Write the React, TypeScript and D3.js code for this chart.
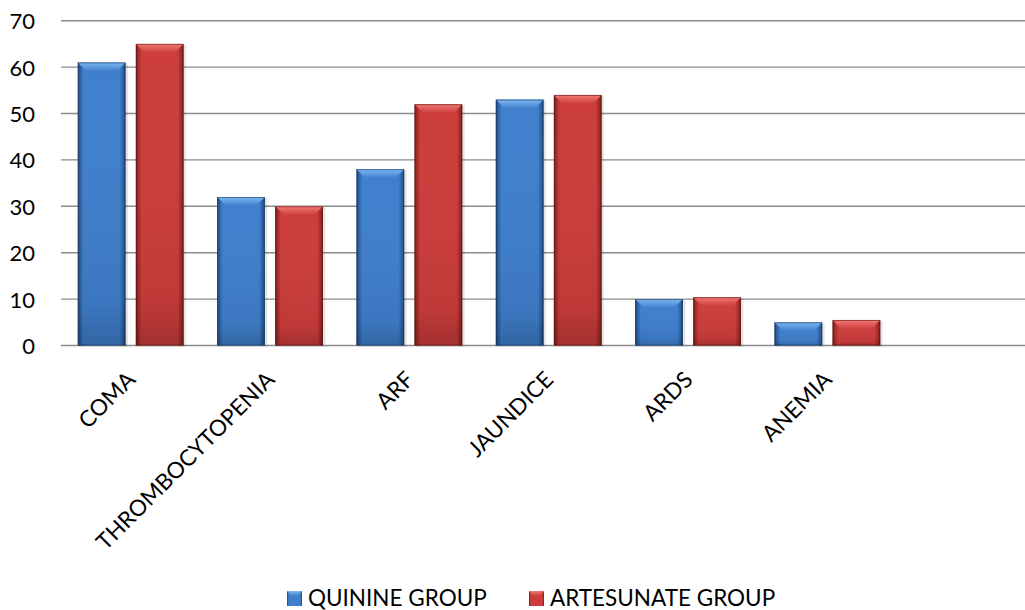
import React from "react";
import * as d3 from "d3";

const categories = ["COMA", "THROMBOCYTOPENIA", "ARF", "JAUNDICE", "ARDS", "ANEMIA"];
const quinine = [61, 32, 38, 53, 10, 5];
const artesunate = [65, 30, 52, 54, 10.4, 5.5];
const seriesNames = ["QUININE GROUP", "ARTESUNATE GROUP"];
const yTicks = [0, 10, 20, 30, 40, 50, 60, 70];

const W = 1025;
const H = 610;
const FONT = "Lato, 'Open Sans', sans-serif";

const palette = [
  { id: "blue", light: "#7fb8f2", main: "#3f7fcc", dark: "#2a5c9c", edge: "#1b3a66" },
  { id: "red", light: "#f27a74", main: "#cc3d3b", dark: "#9a2826", edge: "#641817" },
];

export default function App() {
  const slots = d3.range(categories.length + 1); // one empty trailing slot, as in the original
  const x = d3.scaleBand<number>().domain(slots).range([61, 1036.4]).padding(0);
  const xs = d3
    .scaleBand<number>()
    .domain([0, 1])
    .range([0, x.bandwidth()])
    .paddingInner(0.1776)
    .paddingOuter(0.2888);
  const y = d3.scaleLinear().domain([0, 70]).range([345.5, 20.7]);
  const values = [quinine, artesunate];
  const bw = xs.bandwidth();
  const bev = 9;

  return (
    <svg
      width={W}
      height={H}
      style={{ position: "absolute", left: 0, top: 0, background: "#fff" }}
      fontFamily={FONT}
    >
      <defs>
        {palette.map((p) => (
          <React.Fragment key={p.id}>
            <linearGradient id={`body-${p.id}`} x1="0" x2="1" y1="0" y2="0">
              <stop offset="0" stopColor={p.edge} />
              <stop offset="0.04" stopColor={p.dark} />
              <stop offset="0.12" stopColor={p.main} />
              <stop offset="0.88" stopColor={p.main} />
              <stop offset="0.96" stopColor={p.dark} />
              <stop offset="1" stopColor={p.edge} />
            </linearGradient>
            <linearGradient id={`shade-${p.id}`} x1="0" x2="0" y1="0" y2="1">
              <stop offset="0" stopColor="#fff" stopOpacity="0" />
              <stop offset="0.85" stopColor="#000" stopOpacity="0.06" />
              <stop offset="1" stopColor="#000" stopOpacity="0.2" />
            </linearGradient>
            <linearGradient id={`top-${p.id}`} x1="0" x2="0" y1="0" y2="1">
              <stop offset="0" stopColor={p.light} />
              <stop offset="1" stopColor={p.main} />
            </linearGradient>
          </React.Fragment>
        ))}
      </defs>

      {/* gridlines */}
      {yTicks.map((t) => (
        <line
          key={`g${t}`}
          x1={61}
          x2={W}
          y1={y(t)}
          y2={y(t)}
          stroke="#8c8c8c"
          strokeWidth={1.4}
        />
      ))}

      {/* y tick labels */}
      {yTicks.map((t) => (
        <text
          key={`t${t}`}
          x={35}
          y={y(t)}
          textAnchor="end"
          dominantBaseline="central"
          fontSize={22}
          fill="#000"
        >
          {t}
        </text>
      ))}

      {/* bars */}
      {categories.map((c, i) =>
        values.map((vals, s) => {
          const p = palette[s];
          const x0 = (x(i) as number) + (xs(s) as number);
          const y0 = y(vals[i]);
          const y1 = y(0);
          const h = y1 - y0;
          const b = Math.min(bev, h / 2);
          return (
            <g key={`${c}-${s}`}>
              <rect x={x0 + 1} y={y0 + 1} width={bw + 1.5} height={h} fill="#000" opacity={0.1} />
              <rect x={x0} y={y0} width={bw} height={h} fill={`url(#body-${p.id})`} />
              <rect x={x0} y={y0} width={bw} height={h} fill={`url(#shade-${p.id})`} />
              <polygon
                points={`${x0},${y0} ${x0 + bw},${y0} ${x0 + bw - b},${y0 + b} ${x0 + b},${y0 + b}`}
                fill={`url(#top-${p.id})`}
              />
              <rect
                x={x0 + 0.5}
                y={y0 + 0.5}
                width={bw - 1}
                height={h - 1}
                fill="none"
                stroke={p.edge}
                strokeOpacity={0.6}
                strokeWidth={1}
              />
            </g>
          );
        })
      )}

      {/* category labels */}
      {categories.map((c, i) => {
        const cx = (x(i) as number) + x.bandwidth() / 2 + 6;
        const cy = 381;
        return (
          <text
            key={`l${c}`}
            x={cx}
            y={cy}
            textAnchor="end"
            fontSize={22.5}
            fill="#000"
            transform={`rotate(-45 ${cx} ${cy})`}
          >
            {c}
          </text>
        );
      })}

      {/* legend */}
      {seriesNames.map((n, s) => {
        const p = palette[s];
        const lx = s === 0 ? 287 : 529;
        return (
          <g key={n}>
            <rect x={lx} y={591} width={15} height={15} fill={`url(#body-${p.id})`} />
            <polygon
              points={`${lx},591 ${lx + 15},591 ${lx + 11},596 ${lx + 4},596`}
              fill={`url(#top-${p.id})`}
            />
            <text x={lx + 21} y={606} fontSize={22.5} fill="#000">
              {n}
            </text>
          </g>
        );
      })}
    </svg>
  );
}
